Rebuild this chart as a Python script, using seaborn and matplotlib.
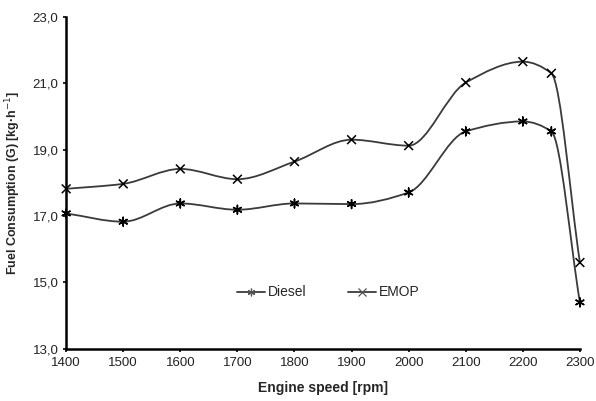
"""
plot.py
-------
Fuel consumption vs engine speed for Diesel and EMOP, drawn with smoothed
curves and markers. Saves out.png.
"""

import numpy as np
import pandas as pd
import matplotlib
matplotlib.use("Agg")  # no display here
import matplotlib.pyplot as plt
from matplotlib.path import Path
from matplotlib.patches import PathPatch
from matplotlib.lines import Line2D
import seaborn as sns

ENGINE_SPEED = [1400, 1500, 1600, 1700, 1800, 1900, 2000, 2100, 2200, 2250, 2300]
DIESEL = [17.08, 16.83, 17.38, 17.19, 17.38, 17.36, 17.71, 19.55, 19.85, 19.55, 14.40]
EMOP = [17.82, 17.97, 18.42, 18.11, 18.64, 19.30, 19.12, 21.02, 21.65, 21.30, 15.60]

X_TICKS = list(range(1400, 2301, 100))
Y_TICKS = [13.0, 15.0, 17.0, 19.0, 21.0, 23.0]

SERIES_MARKERS = {"Diesel": (6, 2, 0), "EMOP": "x"}


def pchip_slopes(xs, ys):
    # Fritsch-Carlson slopes: keeps the curve from overshooting around the peak
    h = np.diff(xs)
    d = np.diff(ys) / h
    m = np.zeros(len(xs))
    m[0], m[-1] = d[0], d[-1]
    for i in range(1, len(xs) - 1):
        if d[i - 1] * d[i] <= 0:
            m[i] = 0.0
        else:
            w1 = 2 * h[i] + h[i - 1]
            w2 = h[i] + 2 * h[i - 1]
            m[i] = (w1 + w2) / (w1 / d[i - 1] + w2 / d[i])
    return m


def smooth_path(xs, ys):
    xs = np.asarray(xs, float)
    ys = np.asarray(ys, float)
    m = pchip_slopes(xs, ys)
    verts = [(xs[0], ys[0])]
    codes = [Path.MOVETO]
    for i in range(len(xs) - 1):
        h = xs[i + 1] - xs[i]
        verts += [(xs[i] + h / 3, ys[i] + m[i] * h / 3),
                  (xs[i + 1] - h / 3, ys[i + 1] - m[i + 1] * h / 3),
                  (xs[i + 1], ys[i + 1])]
        codes += [Path.CURVE4] * 3
    return Path(verts, codes)


def main():
    df = pd.DataFrame({
        "speed": ENGINE_SPEED * 2,
        "fuel": DIESEL + EMOP,
        "series": ["Diesel"] * len(DIESEL) + ["EMOP"] * len(EMOP),
    })

    sns.set_style("ticks")
    plt.rcParams["font.family"] = ["Liberation Sans", "DejaVu Sans"]

    fig = plt.figure(figsize=(5.96, 4.01), dpi=100)
    ax = fig.add_axes([0.111, 0.130, 0.862, 0.828])

    line_color = "#3a3a3a"
    for ys in (DIESEL, EMOP):
        patch = PathPatch(smooth_path(ENGINE_SPEED, ys), facecolor="none",
                          edgecolor=line_color, lw=1.3, zorder=2, clip_on=False)
        ax.add_patch(patch)

    sns.scatterplot(data=df, x="speed", y="fuel", style="series",
                    markers=SERIES_MARKERS, color="black", s=40, linewidth=1.1,
                    legend=False, ax=ax, zorder=3, clip_on=False)

    ax.set_xlim(1400, 2300)
    ax.set_ylim(13.0, 23.0)
    ax.set_xticks(X_TICKS)
    ax.set_yticks(Y_TICKS)
    ax.set_yticklabels([f"{v:.1f}".replace(".", ",") for v in Y_TICKS])
    ax.tick_params(axis="both", labelsize=9.5, length=2.5, width=1.2, color="black",
                   labelcolor="#222222", pad=3)

    for side in ("left", "bottom"):
        ax.spines[side].set_linewidth(1.8)
        ax.spines[side].set_color("black")
    sns.despine(ax=ax)

    ax.set_xlabel("Engine speed [rpm]", fontsize=10, fontweight="bold", labelpad=9)
    ax.set_ylabel("Fuel Consumption (G) [kg\u00b7h$^{-1}$]", fontsize=9,
                  fontweight="bold", labelpad=7)

    handles = [
        Line2D([], [], color=line_color, lw=1.3, marker=SERIES_MARKERS[name],
               markersize=5.5, markeredgewidth=0.9, markeredgecolor="#555555")
        for name in ("Diesel", "EMOP")
    ]
    ax.legend(handles, ["Diesel", "EMOP"], ncol=2, frameon=False,
              loc="center", bbox_to_anchor=(0.51, 0.17), fontsize=10,
              handlelength=2.0, columnspacing=3.0, handletextpad=0.2)

    fig.savefig("out.png", dpi=100)
    plt.close(fig)


if __name__ == "__main__":
    main()
